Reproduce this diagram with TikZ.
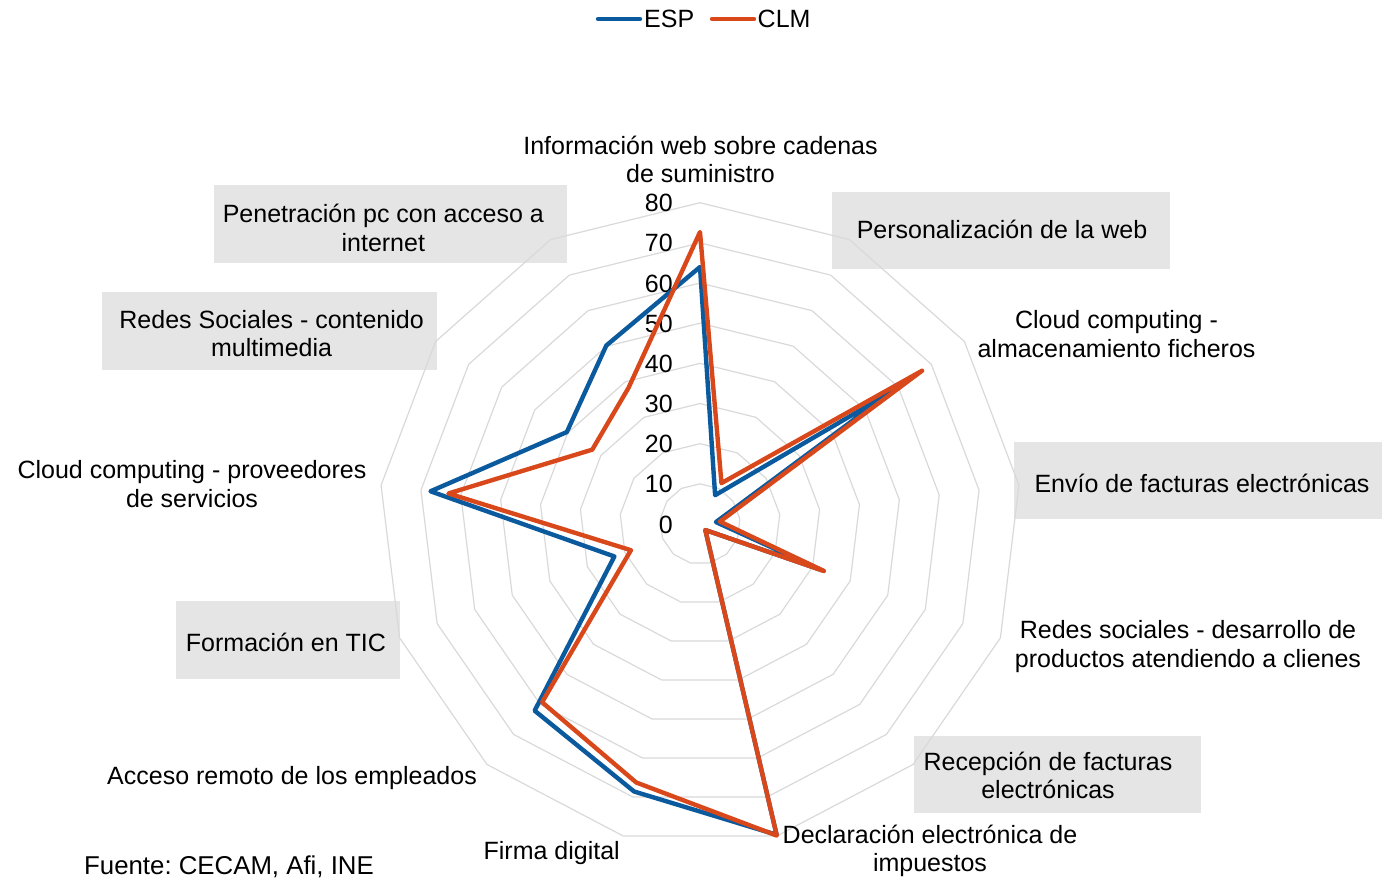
\documentclass[tikz,border=0pt]{standalone}
\usepackage{fontspec}
\setmainfont{Liberation Sans}
\frenchspacing
\definecolor{espblue}{HTML}{0B5A9E}
\definecolor{clmorange}{HTML}{D9481B}
\definecolor{gridgray}{HTML}{D9D9D9}
\definecolor{boxgray}{HTML}{E5E5E5}
\newcommand\lrow[1]{\rule[-6pt]{0pt}{26pt}\smash{#1}}
\tikzset{
  gridline/.style={draw=gridgray, line width=1.2pt},
  serie/.style={line width=4.4pt, line join=round, line cap=round},
  esp/.style={serie, draw=espblue},
  clm/.style={serie, draw=clmorange},
  lab/.style={font=\fontsize{25}{28.5}\selectfont, inner sep=0pt, anchor=north, align=center},
  tick/.style={font=\fontsize{25}{28.5}\selectfont, inner sep=0pt, anchor=base east},
  gbox/.style={rectangle, fill=boxgray, draw=none, inner sep=0pt},
}
\begin{document}
\begin{tikzpicture}[x=1pt, y=-1pt]
\useasboundingbox (0,0) rectangle (1382,878);
% label boxes
\node[gbox, minimum width=353pt, minimum height=77.5pt] (bpen) at (390.5,223.75) {};
\node[gbox, minimum width=337.5pt, minimum height=77pt] (bper) at (1000.75,230.8) {};
\node[gbox, minimum width=334.7pt, minimum height=77.7pt] (bred) at (269.3,331.1) {};
\node[gbox, minimum width=368pt, minimum height=77pt] (benv) at (1198,480.8) {};
\node[gbox, minimum width=224pt, minimum height=77.7pt] (bfor) at (288,639.8) {};
\node[gbox, minimum width=286.7pt, minimum height=77.3pt] (brec) at (1057.3,774.7) {};
% grid rings
\foreach \j in {1,...,8}{
  \draw[gridline] (700,{524-40.16*\j}) \foreach \k in {1,...,12}{ -- ({700+40.16*\j*sin(\k*360/13)},{524-40.16*\j*cos(\k*360/13)}) } -- cycle;
}
% tick labels
\foreach \j in {0,...,8}{
  \pgfmathtruncatemacro\tv{10*\j}
  \node[tick] (t\j) at (673,{524-40.16*\j+9}) {\tv};
}
% data points
\foreach \v [count=\i from 0] in {64,8.1,57.7,4,32.5,2,79.7,68.6,62.1,22.8,67.6,40.3,50.2}{
  \coordinate (e\i) at ({700+4.016*\v*sin(\i*360/13)},{524-4.016*\v*cos(\i*360/13)});
}
\foreach \v [count=\i from 0] in {72.7,11.5,67.2,5,33,2,79.9,66.3,59.3,18.4,63.1,32.6,38.3}{
  \coordinate (c\i) at ({700+4.016*\v*sin(\i*360/13)},{524-4.016*\v*cos(\i*360/13)});
}
\draw[esp] (e0) -- (e1) -- (e2) -- (e3) -- (e4) -- (e5) -- (e6) -- (e7) -- (e8) -- (e9) -- (e10) -- (e11) -- (e12) -- cycle;
\draw[clm] (c0) -- (c1) -- (c2) -- (c3) -- (c4) -- (c5) -- (c6) -- (c7) -- (c8) -- (c9) -- (c10) -- (c11) -- (c12) -- cycle;
% category labels
\node[lab] (l0) at (700.5,134) {\lrow{Información web sobre cadenas}\\\lrow{de suministro}};
\node[lab] (l1) at (1002,218) {\lrow{Personalización de la web}};
\node[lab] (l2) at (1116.5,308.5) {\lrow{Cloud computing -}\\\lrow{almacenamiento ficheros}};
\node[lab] (l3) at (1202,472.5) {\lrow{Envío de facturas electrónicas}};
\node[lab] (l4) at (1188,618.5) {\lrow{Redes sociales - desarrollo de}\\\lrow{productos atendiendo a clienes}};
\node[lab] (l5) at (1048,750) {\lrow{Recepción de facturas}\\\lrow{electrónicas}};
\node[lab] (l6) at (930,823) {\lrow{Declaración electrónica de}\\\lrow{impuestos}};
\node[lab] (l7) at (551.7,839.5) {\lrow{Firma digital}};
\node[lab] (l8) at (292,764) {\lrow{Acceso remoto de los empleados}};
\node[lab] (l9) at (286,631.5) {\lrow{Formación en TIC}};
\node[lab] (l10) at (192,458.5) {\lrow{Cloud computing - proveedores}\\\lrow{de servicios}};
\node[lab] (l11) at (271.6,308) {\lrow{Redes Sociales - contenido}\\\lrow{multimedia}};
\node[lab] (l12) at (383.3,202.5) {\lrow{Penetración pc con acceso a}\\\lrow{internet}};
% source
\node[font=\fontsize{25.8}{28.5}\selectfont, inner sep=0pt, anchor=base west] (src) at (84,874.5) {Fuente: CECAM, Afi, INE};
% legend
\coordinate (la1) at (598,19);
\coordinate (la2) at (640,19);
\coordinate (lb1) at (712,19);
\coordinate (lb2) at (754,19);
\draw[esp] (la1) -- (la2);
\draw[clm] (lb1) -- (lb2);
\node[font=\fontsize{25}{28.5}\selectfont, inner sep=0pt, anchor=base west] (lesp) at (644,27.5) {ESP};
\node[font=\fontsize{25}{28.5}\selectfont, inner sep=0pt, anchor=base west] (lclm) at (757.5,27.5) {CLM};
\end{tikzpicture}
\end{document}
